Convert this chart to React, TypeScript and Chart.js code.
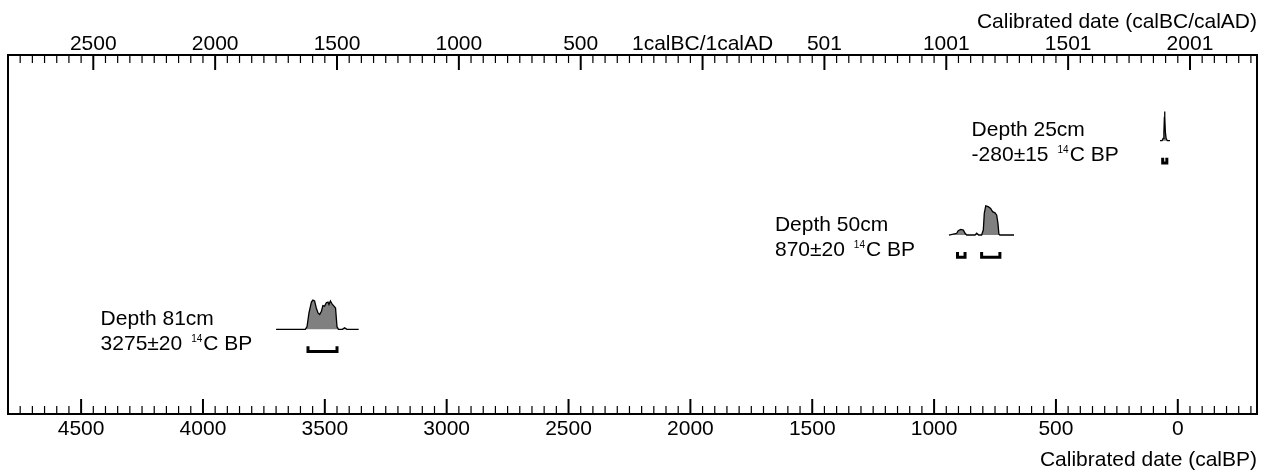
import React, { useEffect, useRef } from 'react';
import { Chart, registerables } from 'chart.js';

Chart.register(...registerables);

// ---------- axis ticks ----------
const bpTickValues = [4500, 4000, 3500, 3000, 2500, 2000, 1500, 1000, 500, 0];
const bpTickLabels = ['4500', '4000', '3500', '3000', '2500', '2000', '1500', '1000', '500', '0'];
const calTickYears = [-2500, -2000, -1500, -1000, -500, 0, 500, 1000, 1500, 2000];
const calTickLabels = ['2500', '2000', '1500', '1000', '500', '1calBC/1calAD', '501', '1001', '1501', '2001'];
const bottomAxisTitle = 'Calibrated date (calBP)';
const topAxisTitle = 'Calibrated date (calBC/calAD)';
const xMin = -325;
const xMax = 4800;
const minorStep = 50;

// ---------- samples ----------
const sampleDepths = ['Depth 81cm', 'Depth 50cm', 'Depth 25cm'];
const sampleAges = ['3275±20', '870±20', '-280±15'];

const d81BP = [3700, 3580, 3573, 3565, 3555, 3549, 3542, 3535, 3528, 3521, 3514, 3508, 3501, 3494, 3487, 3483, 3477, 3469, 3464, 3456, 3450, 3444, 3428, 3419, 3409, 3361];
const d81Prob = [0, 0, 0.09, 0.56, 0.93, 1.0, 0.97, 0.73, 0.56, 0.51, 0.62, 0.81, 0.79, 0.91, 0.93, 0.85, 0.97, 0.85, 0.81, 0.73, 0.09, 0, 0, 0.05, 0, 0];
const d81Ranges = [[3569, 3450]];

const d50BP = [939, 907, 901, 891, 880, 873, 866, 832, 825, 817, 805, 798, 794, 788, 778, 768, 760, 750, 743, 738, 734, 730, 672];
const d50Prob = [0, 0.06, 0.15, 0.19, 0.17, 0.06, 0, 0, 0.06, 0, 0, 0.17, 0.74, 1.0, 0.97, 0.91, 0.8, 0.76, 0.68, 0.4, 0.03, 0, 0];
const d50Ranges = [[904, 873], [805, 730]];

const d25BP = [73, 65, 60, 57, 55, 54, 53, 51, 48, 43, 32];
const d25Prob = [0, 0, 0.08, 0.3, 0.8, 1.0, 0.8, 0.3, 0.08, 0, 0];
const d25Ranges = [[62, 45]];

// ---------- layout (not data) ----------
const ROW_Y = [1, 2, 3];
const AMP = 0.31;
const BRACKET_TOP = 0.18;
const BRACKET_BOTTOM = 0.235;
const LABEL_X_BP = [4420, 1653, 846];
const FONT = '"Liberation Sans", Arial, Helvetica, sans-serif';

const samples = [
  { bp: d81BP, prob: d81Prob, ranges: d81Ranges },
  { bp: d50BP, prob: d50Prob, ranges: d50Ranges },
  { bp: d25BP, prob: d25Prob, ranges: d25Ranges },
];

function minorTicks() {
  const out: { value: number }[] = [];
  const start = Math.ceil(xMin / minorStep) * minorStep;
  for (let v = start; v <= xMax; v += minorStep) out.push({ value: v });
  return out;
}

const calTickBP = calTickYears.map((y) => 1950 - y);

const framePlugin = {
  id: 'framePlugin',
  afterDraw(chart: any) {
    const { ctx, chartArea: a } = chart;
    const xs = chart.scales.x;
    const xt = chart.scales.x2;
    const ys = chart.scales.y;
    ctx.save();
    ctx.strokeStyle = '#000';
    ctx.lineCap = 'butt';
    // tick marks pointing inward
    const drawTicks = (scale: any, majors: number[], isTop: boolean) => {
      scale.ticks.forEach((t: any) => {
        const px = scale.getPixelForValue(t.value);
        const major = majors.indexOf(t.value) >= 0;
        const len = major ? 15 : 8;
        ctx.lineWidth = major ? 2 : 1.2;
        ctx.beginPath();
        if (isTop) {
          ctx.moveTo(px, a.top);
          ctx.lineTo(px, a.top + len);
        } else {
          ctx.moveTo(px, a.bottom);
          ctx.lineTo(px, a.bottom - len);
        }
        ctx.stroke();
      });
    };
    drawTicks(xs, bpTickValues, false);
    drawTicks(xt, calTickBP, true);
    // frame
    ctx.lineWidth = 2;
    ctx.strokeRect(a.left, a.top, a.right - a.left, a.bottom - a.top);

    ctx.fillStyle = '#000';
    // axis titles (right aligned to the frame)
    ctx.font = `21px ${FONT}`;
    ctx.textAlign = 'right';
    ctx.textBaseline = 'alphabetic';
    ctx.fillText(topAxisTitle, a.right, 28);
    ctx.fillText(bottomAxisTitle, a.right, 466);

    // annotations
    ctx.textAlign = 'left';
    sampleDepths.forEach((name, i) => {
      const x = xs.getPixelForValue(LABEL_X_BP[i]);
      const yRow = ys.getPixelForValue(ROW_Y[i]);
      const y1 = yRow - 4.3;
      const y2 = yRow + 20.5;
      ctx.font = `21px ${FONT}`;
      ctx.fillText(name, x, y1);
      const age = sampleAges[i];
      ctx.fillText(age, x, y2);
      let cx = x + ctx.measureText(age).width + 9;
      ctx.font = `10px ${FONT}`;
      ctx.fillText('14', cx, y2 - 8);
      cx += ctx.measureText('14').width + 1;
      ctx.font = `21px ${FONT}`;
      ctx.fillText('C BP', cx, y2);
    });
    ctx.restore();
  },
};

export default function App() {
  const ref = useRef<HTMLCanvasElement | null>(null);
  useEffect(() => {
    if (!ref.current) return;
    const datasets: any[] = [];
    samples.forEach((s, i) => {
      const row = ROW_Y[i];
      datasets.push({
        type: 'line',
        data: s.bp.map((b, j) => ({ x: b, y: row + s.prob[j] * AMP })),
        borderColor: '#000',
        borderWidth: 1.3,
        backgroundColor: '#808080',
        fill: { value: row },
        pointRadius: 0,
        tension: 0,
      });
      s.ranges.forEach(([from, to]) => {
        datasets.push({
          type: 'line',
          data: [
            { x: from, y: row - BRACKET_TOP },
            { x: from, y: row - BRACKET_BOTTOM },
            { x: to, y: row - BRACKET_BOTTOM },
            { x: to, y: row - BRACKET_TOP },
          ],
          borderColor: '#000',
          borderWidth: 3,
          borderCapStyle: 'butt',
          borderJoinStyle: 'miter',
          fill: false,
          pointRadius: 0,
          tension: 0,
        });
      });
    });

    const tickFont = { family: FONT, size: 21 };
    const chart = new Chart(ref.current, {
      type: 'line',
      data: { datasets },
      options: {
        animation: false,
        responsive: false,
        layout: { padding: { left: 8, right: 9, top: 0, bottom: 0 } },
        plugins: {
          legend: { display: false },
          tooltip: { enabled: false },
          title: { display: false },
        },
        scales: {
          x: {
            type: 'linear',
            position: 'bottom',
            reverse: true,
            min: xMin,
            max: xMax,
            afterBuildTicks: (scale: any) => {
              scale.ticks = minorTicks();
            },
            afterFit: (scale: any) => {
              scale.height = 59;
            },
            ticks: {
              autoSkip: false,
              maxRotation: 0,
              minRotation: 0,
              padding: 3,
              color: '#000',
              font: tickFont,
              callback: (v: any) => {
                const k = bpTickValues.indexOf(Number(v));
                return k >= 0 ? bpTickLabels[k] : '';
              },
            },
            grid: { display: false, drawTicks: false },
            border: { display: false },
            title: { display: false },
          },
          x2: {
            type: 'linear',
            position: 'top',
            reverse: true,
            min: xMin,
            max: xMax,
            afterBuildTicks: (scale: any) => {
              scale.ticks = minorTicks();
            },
            afterFit: (scale: any) => {
              scale.height = 55;
            },
            ticks: {
              autoSkip: false,
              maxRotation: 0,
              minRotation: 0,
              padding: -2,
              color: '#000',
              font: tickFont,
              callback: (v: any) => {
                const k = calTickBP.indexOf(Number(v));
                return k >= 0 ? calTickLabels[k] : '';
              },
            },
            grid: { display: false, drawTicks: false },
            border: { display: false },
            title: { display: false },
          },
          y: { type: 'linear', display: false, min: 0.102, max: 3.909 },
        },
      },
      plugins: [framePlugin],
    } as any);
    return () => chart.destroy();
  }, []);

  return (
    <div style={{ position: 'fixed', left: 0, top: 0, width: 1266, height: 473, background: '#fff' }}>
      <canvas ref={ref} width={1266} height={473} style={{ display: 'block' }} />
    </div>
  );
}
